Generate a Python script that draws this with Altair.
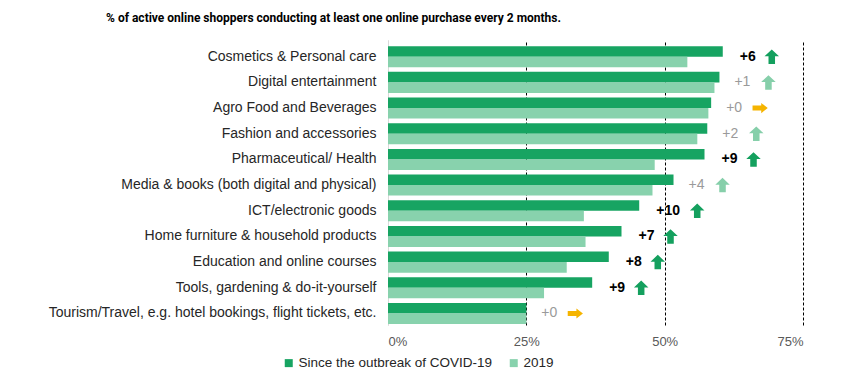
import altair as alt
import pandas as pd

categories = [
    "Cosmetics & Personal care",
    "Digital entertainment",
    "Agro Food and Beverages",
    "Fashion and accessories",
    "Pharmaceutical/ Health",
    "Media & books (both digital and physical)",
    "ICT/electronic goods",
    "Home furniture & household products",
    "Education and online courses",
    "Tools, gardening & do-it-yourself",
    "Tourism/Travel, e.g. hotel bookings, flight tickets, etc.",
]
covid = [0.605, 0.599, 0.584, 0.577, 0.572, 0.516, 0.454, 0.422, 0.399, 0.369, 0.250]
y2019 = [0.541, 0.590, 0.579, 0.559, 0.482, 0.478, 0.354, 0.357, 0.323, 0.282, 0.250]
change_labels = ["+6", "+1", "+0", "+2", "+9", "+4", "+10", "+7", "+8", "+9", "+0"]
significant = [True, False, False, False, True, False, True, True, True, True, False]
direction = ["up", "up", "right", "up", "up", "up", "up", "up", "up", "up", "right"]
series_names = ["Since the outbreak of COVID-19", "2019"]
x_ticks = [0, 0.25, 0.5, 0.75]

FONT = "Liberation Sans, Arial, sans-serif"
DARK = "#17a462"
LIGHT = "#88d2ad"

rows = []
for c, a, b in zip(categories, covid, y2019):
    rows.append({"category": c, "series": series_names[0], "value": a})
    rows.append({"category": c, "series": series_names[1], "value": b})
bars_df = pd.DataFrame(rows)

lab_df = pd.DataFrame({
    "category": categories,
    "covid": covid,
    "label": change_labels,
    "sig": ["sig" if s else ("flat" if d == "right" else "ns") for s, d in zip(significant, direction)],
    "dir": direction,
})

y_enc = alt.Y("category:N", sort=categories, title=None,
              scale=alt.Scale(paddingInner=0.18, paddingOuter=0.14, align=0.86),
              axis=alt.Axis(labelFontSize=14, labelFont=FONT, labelColor="#262626",
                            labelPadding=12, ticks=False, domain=True,
                            domainColor="#d9d9d9", labelLimit=400))

x_scale = alt.Scale(domain=[0, 0.75], nice=False)

bars = alt.Chart(bars_df).mark_bar().encode(
    x=alt.X("value:Q", scale=x_scale, title=None,
            axis=alt.Axis(values=x_ticks, format=".0%", labelFontSize=13, labelFont=FONT,
                          labelColor="#595959", labelPadding=10, ticks=False, domain=False,
                          grid=True,
                          gridColor={"condition": {"test": "datum.value == 0", "value": "#d9d9d9"}, "value": "#000000"},
                          gridDash={"condition": {"test": "datum.value == 0", "value": [1, 0]}, "value": [3, 2]},
                          gridWidth=1)),
    y=y_enc,
    yOffset=alt.YOffset("series:N", sort=series_names),
    color=alt.Color("series:N", sort=series_names,
                    scale=alt.Scale(domain=series_names, range=[DARK, LIGHT]),
                    legend=alt.Legend(title=None, orient="none", direction="horizontal",
                                      legendX=-106, legendY=316, symbolType="square",
                                      symbolSize=64, labelFontSize=13.5, labelFont=FONT,
                                      labelColor="#262626", columnPadding=14, labelLimit=400,
                                      symbolStrokeWidth=0, labelOffset=3)),
)

base_lab = alt.Chart(lab_df).encode(
    x=alt.X("covid:Q", scale=x_scale),
    y=alt.Y("category:N", sort=categories),
)

txt_sig = base_lab.transform_filter("datum.sig == 'sig'").mark_text(
    align="left", baseline="middle", dx=17, fontSize=14, fontWeight="bold",
    font=FONT, color="#000000").encode(text="label:N")
txt_ns = base_lab.transform_filter("datum.sig != 'sig'").mark_text(
    align="left", baseline="middle", dx=15, fontSize=14,
    font=FONT, color="#9a9a9a").encode(text="label:N")

up_path = "M -1 -0.05 L 0 -1 L 1 -0.05 L 0.45 -0.05 L 0.45 1 L -0.45 1 L -0.45 -0.05 Z"
right_path = "M 0.15 -0.7 L 1.05 0 L 0.15 0.7 L 0.15 0.35 L -1.05 0.35 L -1.05 -0.35 L 0.15 -0.35 Z"

arrow_enc = dict(
    shape=alt.Shape("dir:N", scale=alt.Scale(domain=["up", "right"], range=[up_path, right_path]), legend=None),
    color=alt.Color("sig:N", scale=alt.Scale(domain=["sig", "ns", "flat"], range=["#14a05e", "#86cfaa", "#f5b400"]), legend=None),
)

arrows_2 = base_lab.transform_filter("length(datum.label) == 2").mark_point(
    filled=True, opacity=1, size=210, xOffset=49, strokeWidth=0).encode(**arrow_enc)
arrows_3 = base_lab.transform_filter("length(datum.label) == 3").mark_point(
    filled=True, opacity=1, size=210, xOffset=58, strokeWidth=0).encode(**arrow_enc)

chart = alt.layer(bars, txt_sig, txt_ns, arrows_2, arrows_3).resolve_scale(
    color="independent", shape="independent"
).properties(
    width=415, height=285,
    autosize=alt.AutoSizeParams(type="none"),
    padding={"left": 380, "top": 32, "right": 40, "bottom": 48},
    title=alt.Title("% of active online shoppers conducting  at least one online purchase every 2 months.",
                    font="Roboto, Liberation Sans, sans-serif",
                    fontSize=12, fontWeight="bold", color="#000000",
                    anchor="middle", dx=-262, offset=15),
).configure_view(stroke=None)

chart.save("out.html", embed_options={"renderer": "svg", "actions": False})
